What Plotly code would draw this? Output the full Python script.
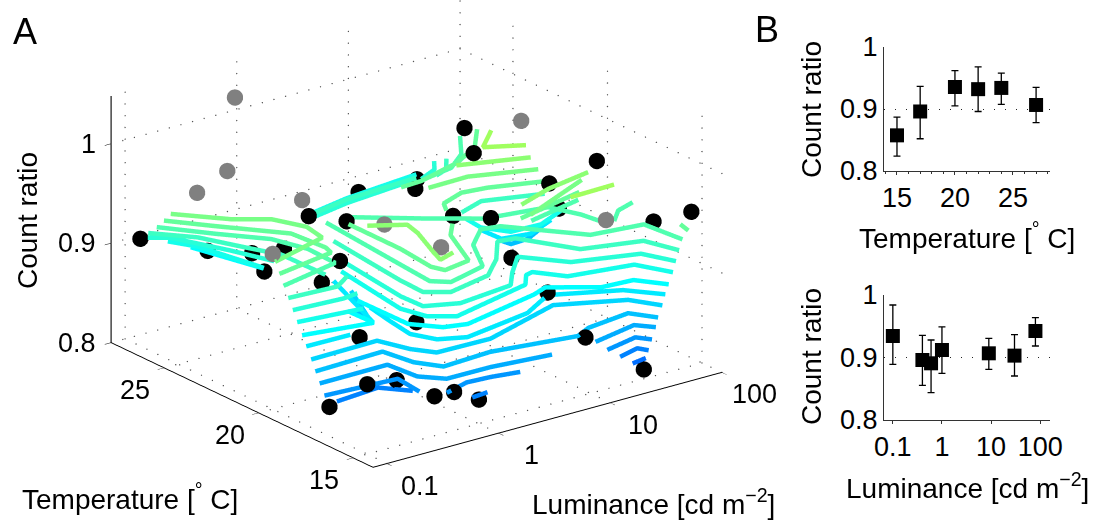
import plotly.graph_objects as go
import math

# ---------- panel A: measured grid ----------
luminance = [0.1, 0.4, 0.6, 1, 9, 30, 80]
temperature = [15, 17, 20, 22, 24, 27]
ratio_T15 = [0.8705, 0.8400, 0.8389, 0.8245, 0.8578, 0.8097, 0.9552]
ratio_T17 = [0.8296, 0.8381, 0.8910, 0.9596, 0.8849, 0.9418, 0.9273]
ratio_T20 = [0.9563, 0.9308, 0.8487, 0.9553, 0.9326, 0.9515, 0.9610]
ratio_T22 = [1.0954, 0.9739, 0.8858, 0.9404, 0.9167, 0.8586, 0.8951]
ratio_T24 = [0.9815, 0.8840, 0.9019, 0.9275, 0.9258, 0.9457, 0.9652]
ratio_T27 = [0.9081, 0.8776, 0.9525, 0.8631, 0.8954, 0.8923, 0.9308]
ratio_rows = [ratio_T15, ratio_T17, ratio_T20, ratio_T22, ratio_T24, ratio_T27]
excluded = {(17, 3): 1, (17, 5): 1, (20, 0): 1, (20, 3): 1, (22, 0): 1, (22, 1): 1, (24, 0): 1, (24, 6): 1, (27, 2): 1}

# ---------- panel A: contours, level -> [(log10 luminance, temperature), ...] ----------
contours = {
 0.82: [([1.36, 1.50], [14.89, 15.02])],
 0.83: [([-.90, -.50, -.34], [17.19, 17.38, 16.48]),
        ([-.08, .07], [14.87, 14.95]),
        ([1.25, 1.45, 1.49], [14.90, 15.17, 14.81])],
 0.84: [([-1.02, -.40, -.43], [17.14, 16.92, 15.60]),
        ([-.29, -.05, .15, .38], [14.98, 15.34, 15.26, 15.05]),
        ([1.14, 1.45, 1.52], [14.93, 15.28, 14.81])],
 0.85: [([-1.02, -.41, -.38, -.24, .15, .65], [17.39, 17.41, 16.01, 15.28, 15.26, 14.96]),
        ([1.05, 1.47, 1.57], [15.02, 15.47, 14.90])],
 0.86: [([-1.02, -.40, -.35, -.23, .21, .90, 1.06, 1.46, 1.58], [17.62, 17.73, 16.38, 15.50, 15.64, 15.07, 15.45, 15.72, 14.84]),
        ([1.60, 1.62, 1.78, 1.98], [23.42, 22.86, 22.91, 23.40]),
        ([-.11, -.06], [21.23, 20.72])],
 0.87: [([-1.02, -.42, -.33, -.22, .25, 1.01, 1.50, 1.63], [17.84, 17.90, 16.67, 15.92, 15.86, 17.03, 15.96, 14.91]),
        ([.03, -.25], [21.94, 19.12])],
 0.88: [([-1.01, -.62], [18.16, 18.13]),
        ([-.18, -.23, -.27, -.18, .02, .65, .98, 1.47, 1.66], [19.68, 18.33, 17.04, 16.14, 15.71, 16.26, 17.14, 16.04, 14.93]),
        ([1.38, 1.39, 1.62, 1.90], [23.00, 22.01, 21.80, 22.39]),
        ([-.07, -.34], [22.27, 18.58])],
 0.89: [([-1.02, -.46, -.47], [18.32, 17.83, 19.16]),
        ([-.29, -.28, -.12, .06, .79, .94, 1.26, 1.53, 1.68], [19.71, 17.08, 16.18, 15.93, 16.74, 17.03, 15.96, 15.85, 14.87]),
        ([-.60, -.44], [26.69, 23.78]),
        ([.51, .86, 1.54], [26.69, 27.04, 27.40])],
 0.90: [([-1.01, -.47], [18.64, 18.33]),
        ([-.15, -.26, -.20, -.03, .74, .86, .93, 1.08, 1.60, 1.73], [21.39, 17.61, 16.56, 15.98, 16.90, 17.57, 17.66, 16.68, 16.22, 14.94]),
        ([-.78, -.67, -.55], [26.84, 25.88, 23.11]),
        ([1.19, 1.17, 1.29, 1.55, 1.83], [22.69, 21.80, 20.92, 20.86, 21.45]),
        ([.41, .75, 1.44], [26.09, 26.44, 26.80])],
 0.91: [([-1.01, -.58, -.44], [18.87, 18.72, 18.82]),
        ([-.13, -.23, -.22, .03, .53, .69, .91, 1.15, 1.65, 1.76], [21.78, 17.76, 16.64, 16.14, 16.44, 17.30, 18.32, 16.92, 16.16, 14.96]),
        ([-.97, -.84, -.65, -.53], [26.78, 26.33, 24.27, 22.69]),
        ([.23, .58, 1.26], [25.05, 25.40, 25.75]),
        ([1.58, 1.48, 1.29], [26.69, 26.08, 25.66])],
 0.92: [([-1.01, -.59, -.41], [19.11, 18.98, 19.53]),
        ([-.07, -.16, -.17, -.01, .40, .64, .86, 1.00, 1.24, 1.70, 1.79], [22.27, 18.21, 16.94, 16.41, 16.87, 17.85, 19.09, 18.96, 16.95, 16.32, 14.97]),
        ([-1.03, -.80, -.64, -.53, -.52], [26.40, 25.14, 23.42, 22.33, 20.04]),
        ([.15, .50, 1.16], [24.60, 24.95, 25.16]),
        ([1.56, 1.43, 1.30], [25.92, 25.17, 24.92]),
        ([1.00, 1.25, 1.70], [21.82, 22.25, 21.55])],
 0.93: [([-1.03, -.78, -.52, -.43, -.44, -1.01], [25.95, 24.38, 22.90, 21.51, 19.99, 19.36]),
        ([-.01, -.09, -.12, -.01, .36, .56, .79, .94, 1.35, 1.78, 1.82], [23.02, 18.58, 16.88, 16.41, 16.91, 18.60, 19.56, 19.40, 17.06, 16.77, 14.97]),
        ([1.79, 1.58, 1.36, 1.04], [26.56, 25.25, 24.48, 24.16]),
        ([.17, .58, .94, 1.44, 1.54, 1.57], [23.01, 21.48, 20.25, 19.83, 18.67, 17.83]),
        ([1.65, 1.80, 1.98], [17.58, 18.25, 18.55]),
        ([1.18, 1.70], [19.19, 19.77])],
 0.94: [([-1.01, -.46, -.43, -.46, -.81, -1.03], [19.58, 20.09, 20.56, 22.21, 24.23, 25.57]),
        ([-.02, -.02, -.06, -.02, .23, .43, .58], [21.77, 19.03, 17.17, 16.66, 16.89, 19.03, 19.81]),
        ([.70, .77, 1.00, 1.21, 1.61], [20.84, 21.40, 21.82, 21.67, 21.03]),
        ([1.87, 1.84], [15.38, 14.78]),
        ([1.85, 1.62, 1.33, .91, .72], [26.01, 24.78, 24.01, 23.42, 23.36]),
        ([1.03, 1.68], [18.86, 19.60])],
 0.95: [([-1.01, -.45, -.41, -.52, -.75, -1.03], [19.81, 20.62, 21.69, 22.90, 23.67, 25.21]),
        ([.75, 1.11, 1.60], [22.09, 22.13, 21.30]),
        ([1.01, 1.72], [18.22, 19.71])],
 0.96: [([-.17, .07, .03, -.11, -.16, 0.0], [19.89, 19.19, 18.40, 16.74, 16.08, 16.35]),
        ([.96, 1.30, 1.73], [18.41, 19.01, 19.43]),
        ([1.06, 1.58], [22.44, 21.58])],
 0.97: [([1.21, 1.61], [17.29, 17.35]),
        ([1.56, 1.31, 1.58], [23.55, 22.51, 21.83])],
}

# ---------- panel B ----------
temp_b = [15, 17, 20, 22, 24, 27]
temp_mean = [0.8575, 0.896, 0.9355, 0.932, 0.934, 0.9065]
temp_hi = [0.887, 0.9366, 0.962, 0.968, 0.958, 0.935]
temp_lo = [0.824, 0.852, 0.905, 0.896, 0.9075, 0.878]
lum_b = [0.1, 0.4, 0.6, 1, 9, 30, 80]
lum_mean = [0.9344, 0.896, 0.8907, 0.912, 0.9067, 0.903, 0.9424]
lum_hi = [0.984, 0.9355, 0.928, 0.949, 0.9307, 0.9365, 0.9637]
lum_lo = [0.889, 0.8555, 0.8437, 0.8747, 0.881, 0.8704, 0.9184]

# axis limits
L_LIM = [-1.125, 2.0]
T_LIM = [13.95, 27.8]
Z_LIM = [0.8, 1.1]
Z_TOP = 1.048
L_TICKS = [-1, 0, 1, 2]
L_TEXT = ["0.1", "1", "10", "100"]
T_TICKS = [15, 20, 25]
Z_TICKS = [0.8, 0.9, 1]
Z_TEXT = ["0.8", "0.9", "1"]
FONT = "Liberation Sans, Arial, sans-serif"
TICK_SIZE = 27
TITLE_SIZE = 28


def level_colour(z):
    if z <= 0.89:
        return f"rgb(0,{round(110 + (z - 0.82) * 2070)},255)"
    r = round((z - 0.89) * 2000)
    return f"rgb({r},255,{255 - r})"


fig = go.Figure()

# sparse dotted grid on the box floor and back walls, placed at the axis ticks
gridx, gridy, gridz = [], [], []

def grid(a, b, n):
    for i in range(n + 1):
        f = i / n
        gridx.append(a[0] + (b[0] - a[0]) * f)
        gridy.append(a[1] + (b[1] - a[1]) * f)
        gridz.append(a[2] + (b[2] - a[2]) * f)

N_L, N_T, N_Z = 30, 24, 21
for v in L_TICKS:
    grid((v, T_LIM[0], Z_LIM[0]), (v, T_LIM[1], Z_LIM[0]), N_T)
    grid((v, T_LIM[1], Z_LIM[0]), (v, T_LIM[1], Z_TOP), N_Z)
for v in T_TICKS:
    grid((L_LIM[0], v, Z_LIM[0]), (L_LIM[1], v, Z_LIM[0]), N_L)
    grid((L_LIM[1], v, Z_LIM[0]), (L_LIM[1], v, Z_TOP), N_Z)
for v in Z_TICKS:
    grid((L_LIM[0], T_LIM[1], v), (L_LIM[1], T_LIM[1], v), N_L)
    grid((L_LIM[1], T_LIM[1], v), (L_LIM[1], T_LIM[0], v), N_T)
fig.add_trace(go.Scatter3d(x=gridx, y=gridy, z=gridz, mode="markers", showlegend=False, hoverinfo="skip",
                           marker=dict(size=0.8, color="#555", line=dict(width=0))))

fig.add_trace(go.Scatter3d(x=[L_LIM[0], L_LIM[0]], y=[T_LIM[1], T_LIM[1]], z=[Z_LIM[0], Z_TOP],
                           mode="lines", line=dict(color="#444", width=3), showlegend=False, hoverinfo="skip"))

for level, parts in contours.items():
    for xs, ys in parts:
        fig.add_trace(go.Scatter3d(x=xs, y=ys, z=[level] * len(xs), mode="lines", showlegend=False,
                                   hoverinfo="skip", line=dict(color=level_colour(level), width=9)))

bx, by, bz, gx, gy, gz = [], [], [], [], [], []
for t, row in zip(temperature, ratio_rows):
    for i, (lum, r) in enumerate(zip(luminance, row)):
        if excluded.get((t, i)):
            gx.append(math.log10(lum)); gy.append(t); gz.append(r)
        else:
            bx.append(math.log10(lum)); by.append(t); bz.append(r)
fig.add_trace(go.Scatter3d(x=bx, y=by, z=bz, mode="markers", showlegend=False,
                           marker=dict(size=9.5, color="black", line=dict(width=0))))
fig.add_trace(go.Scatter3d(x=gx, y=gy, z=gz, mode="markers", showlegend=False,
                           marker=dict(size=9.5, color="#808080", line=dict(width=0))))

common = dict(showbackground=False, showgrid=False, zeroline=False, showspikes=False, showticklabels=False,
              tickmode="array", ticks="outside", ticklen=8, tickwidth=1, tickcolor="black", title=dict(text=""))

def tick_note(x, y, z, s, xs, ys, anchor="center"):
    return dict(x=x, y=y, z=z, text=s, showarrow=False, xshift=xs, yshift=ys, xanchor=anchor, yanchor="middle",
                font=dict(family=FONT, size=TICK_SIZE, color="black"))

scene_notes = []
for v, s in zip(L_TICKS, L_TEXT):
    scene_notes.append(tick_note(v, T_LIM[0], Z_LIM[0], s, 33, -22))
for v in T_TICKS:
    scene_notes.append(tick_note(L_LIM[0], v, Z_LIM[0], str(v), -29, -22))
for v, s in zip(Z_TICKS, Z_TEXT):
    scene_notes.append(tick_note(L_LIM[0], T_LIM[1], v, s, -13, 0, "right"))

fig.update_layout(
    width=1099, height=520, margin=dict(l=0, r=0, t=0, b=0, autoexpand=False),
    paper_bgcolor="white", plot_bgcolor="white", showlegend=False, hovermode=False,
    font=dict(family=FONT, size=TICK_SIZE, color="black"),
    scene=dict(
        domain=dict(x=[0, 0.758], y=[0, 1]),
        aspectmode="manual", aspectratio=dict(x=1.682, y=1.67, z=1.23),
        camera=dict(projection=dict(type="orthographic"),
                    eye=dict(x=-1.688, y=-2.233, z=0.867),
                    center=dict(x=0, y=0, z=-0.213), up=dict(x=0, y=0, z=1)),
        annotations=scene_notes,
        xaxis=dict(range=L_LIM, tickvals=L_TICKS, showline=True, linecolor="black", linewidth=2, **common),
        yaxis=dict(range=T_LIM, tickvals=T_TICKS, showline=True, linecolor="black", linewidth=2, **common),
        zaxis=dict(range=Z_LIM, tickvals=Z_TICKS, showline=False, **common),
    ),
    xaxis=dict(domain=[884 / 1099, 1050 / 1099], anchor="y", range=[13.88, 28.2], tickvals=[15, 20, 25],
               ticks="outside", ticklen=3, tickcolor="#333", showline=True, linecolor="#333", showgrid=False, zeroline=False,
               tickfont=dict(size=TICK_SIZE), minor=dict(dtick=1, ticks="outside", ticklen=2, tickcolor="#333")),
    yaxis=dict(domain=[1 - 171 / 520, 1 - 47 / 520], anchor="x", range=[0.8, 1], tickvals=Z_TICKS,
               ticktext=Z_TEXT, ticks="", showline=True, linecolor="#333", zeroline=False,
               gridcolor="#222", griddash="1px,10px", gridwidth=1, tickfont=dict(size=TICK_SIZE)),
    xaxis2=dict(domain=[884 / 1099, 1050 / 1099], anchor="y2", type="log", range=[-1.18, 2.2], tickvals=[0.1, 1, 10, 100],
                ticktext=L_TEXT, ticks="outside", ticklen=3, tickcolor="#333", showline=True, linecolor="#333",
                showgrid=False, zeroline=False, tickfont=dict(size=TICK_SIZE)),
    yaxis2=dict(domain=[1 - 420 / 520, 1 - 295 / 520], anchor="x2", range=[0.8, 1], tickvals=Z_TICKS,
                ticktext=Z_TEXT, ticks="", showline=True, linecolor="#333", zeroline=False,
                gridcolor="#222", griddash="1px,10px", gridwidth=1, tickfont=dict(size=TICK_SIZE)),
)

def panel(xs, mean, hi, lo, xa, ya):
    fig.add_trace(go.Scatter(
        x=xs, y=mean, mode="markers", xaxis=xa, yaxis=ya, showlegend=False,
        marker=dict(symbol="square", size=14, color="black"),
        error_y=dict(type="data", symmetric=False,
                     array=[h - m for h, m in zip(hi, mean)],
                     arrayminus=[m - l for m, l in zip(mean, lo)],
                     color="black", thickness=1.3, width=3.5)))

panel(temp_b, temp_mean, temp_hi, temp_lo, "x", "y")
panel(lum_b, lum_mean, lum_hi, lum_lo, "x2", "y2")

def text(x, y, s, size=TITLE_SIZE, angle=0):
    fig.add_annotation(xref="paper", yref="paper", x=x / 1099, y=1 - y / 520, text=s, showarrow=False,
                       font=dict(family=FONT, size=size, color="black"), textangle=angle,
                       xanchor="center", yanchor="middle")

text(25, 31, "A", 36)
text(767, 29, "B", 36)
text(27, 221, "Count ratio", TITLE_SIZE, -90)
text(130, 497, "Temperature [<sup>°</sup> C]")
text(653, 502, "Luminance [cd m<sup>−2</sup>]")
text(811, 110, "Count ratio", TITLE_SIZE, -90)
text(967, 236, "Temperature [<sup>°</sup> C]")
text(811, 357, "Count ratio", TITLE_SIZE, -90)
text(967, 486, "Luminance [cd m<sup>−2</sup>]")

fig.write_html("out.html", config=dict(displayModeBar=False), post_script="document.body.style.margin='0';")
